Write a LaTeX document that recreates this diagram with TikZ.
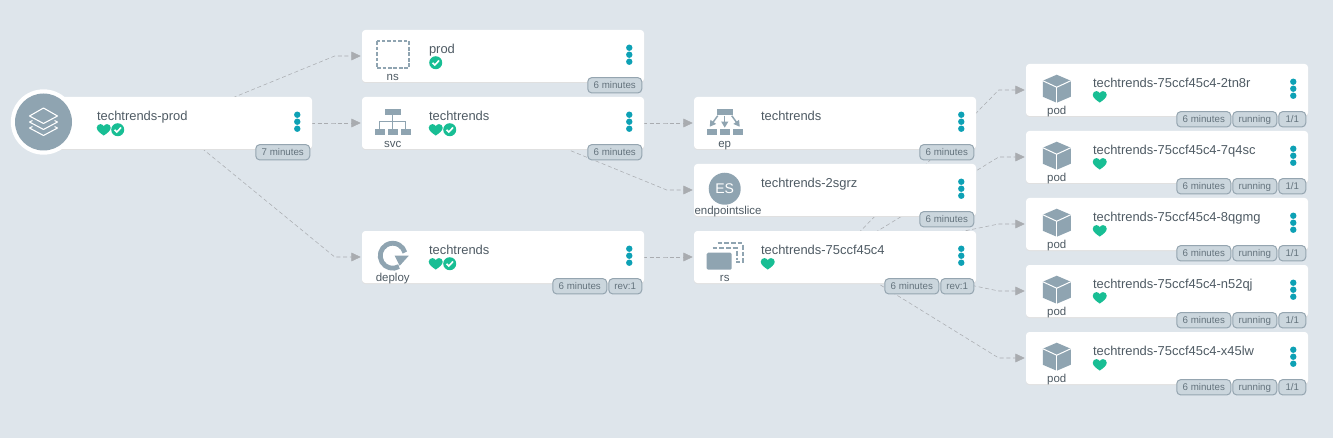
\documentclass[tikz,border=0pt]{standalone}
\usepackage{fontspec}
\setmainfont{Liberation Sans}
\usetikzlibrary{calc,positioning,arrows.meta,backgrounds,shadows}

\definecolor{pagebg}{HTML}{DEE5EB}
\definecolor{iconblue}{HTML}{8FA4B1}
\definecolor{menuteal}{HTML}{0DA1B5}
\definecolor{healthy}{HTML}{18BE94}
\definecolor{inktext}{HTML}{4F5B64}
\definecolor{badgefill}{HTML}{CBD6DD}
\definecolor{badgeline}{HTML}{95A5B0}
\definecolor{badgetext}{HTML}{64737D}
\definecolor{linkgray}{HTML}{A9ACB0}

\tikzset{
	card/.style={fill=white, rounded corners=2.5pt, minimum width=211.5pt, minimum height=39pt, inner sep=0pt,
		general shadow={fill=black!12, shadow yshift=-0.75pt}},
	cardtitle/.style={anchor=base west, inner sep=0pt, text=inktext, font=\fontsize{9.7pt}{11pt}\selectfont},
	kindlabel/.style={anchor=base, inner sep=0pt, text=inktext, font=\fontsize{8.6pt}{10pt}\selectfont},
	badge/.style={draw=badgeline, fill=badgefill, rounded corners=3pt, line width=0.75pt, inner sep=0pt,
		minimum height=11.5pt, text height=5.5pt, text depth=1pt, text=badgetext,
		font=\fontsize{7.3pt}{9pt}\selectfont},
	linkline/.style={draw=linkgray, line width=0.4pt, dash pattern=on 3pt off 2pt,
		-{Triangle[length=7pt,width=6.5pt]}},
	heartmark/.pic={
		\fill[healthy] (0,5.8) .. controls (-3,3.8) and (-7,1) .. (-7,-2)
			.. controls (-7,-4.2) and (-5.2,-5.6) .. (-3.4,-5.6)
			.. controls (-2,-5.6) and (-0.7,-4.8) .. (0,-3.7)
			.. controls (0.7,-4.8) and (2,-5.6) .. (3.4,-5.6)
			.. controls (5.2,-5.6) and (7,-4.2) .. (7,-2)
			.. controls (7,1) and (3,3.8) .. (0,5.8) -- cycle;
	},
	checkmark/.pic={
		\fill[healthy] (0,0) circle (6.5);
		\draw[white, line width=1.2pt] (-3.2,0) -- (-1,2.3) -- (3.3,-2.2);
	},
	menudots/.pic={
		\fill[menuteal] (0,-7) circle (3.2);
		\fill[menuteal] (0,0) circle (3.2);
		\fill[menuteal] (0,7) circle (3.2);
	},
	nsicon/.pic={
		\draw[iconblue, line width=1.3pt, dash pattern=on 2.8pt off 1.3pt] (-16,-13.5) rectangle (16,13.5);
	},
	svcicon/.pic={
		\fill[iconblue] (-8,-13) rectangle (8,-7);
		\fill[iconblue] (-18,7) rectangle (-8,13);
		\fill[iconblue] (-5,7) rectangle (5,13);
		\fill[iconblue] (8.5,7) rectangle (18,13);
		\draw[iconblue, line width=0.9pt] (0,-7) -- (0,7);
		\draw[iconblue, line width=0.9pt] (-13,7) -- (-13,0) -- (13,0) -- (13,7);
	},
	epicon/.pic={
		\fill[iconblue] (-8,-13) rectangle (8,-7);
		\fill[iconblue] (-18,7) rectangle (-8,13);
		\fill[iconblue] (-5,7) rectangle (5,13);
		\fill[iconblue] (8.5,7) rectangle (18,13);
		\draw[iconblue, line width=1.1pt, -{Triangle[length=4.5pt,width=5pt]}] (0,-6) -- (0,6);
		\draw[iconblue, line width=1.1pt, -{Triangle[length=4.5pt,width=5pt]}] (-7,-6) -- (-15,5);
		\draw[iconblue, line width=1.1pt, -{Triangle[length=4.5pt,width=5pt]}] (7,-6) -- (15,5);
	},
	deployicon/.pic={
		\draw[iconblue, line width=3.6pt] (60:12.5) arc[start angle=60, end angle=345, radius=12.5];
		\fill[iconblue] (2,0) -- (16,0) -- (7,10) -- cycle;
	},
	rsicon/.pic={
		\fill[iconblue, rounded corners=1pt] (-18,-3) rectangle (7,14);
		\draw[iconblue, line width=1.3pt, dash pattern=on 3.5pt off 1.5pt] (-7,-12.5) -- (18,-12.5) -- (18,6) -- (11,6);
		\draw[iconblue, line width=1.3pt, dash pattern=on 3.5pt off 1.5pt] (-12,-7.5) -- (12,-7.5) -- (12,4);
	},
	podicon/.pic={
		\fill[iconblue] (0,-14) -- (14,-8) -- (14,8) -- (0,14) -- (-14,8) -- (-14,-8) -- cycle;
		\draw[white, line width=0.75pt] (-14,-8) -- (0,-1.5) -- (14,-8);
		\draw[white, line width=0.75pt] (0,-1.5) -- (0,14);
	},
	stackicon/.pic={
		\draw[white, line width=0.8pt, line join=round] (-14,-6) -- (0,-14) -- (14,-6) -- (0,1.5) -- cycle;
		\draw[white, line width=0.8pt, line join=round] (-11,-1.5) -- (-14,0) -- (0,7.5) -- (14,0) -- (11,-1.5);
		\draw[white, line width=0.8pt, line join=round] (-11,4.5) -- (-14,6) -- (0,13.5) -- (14,6) -- (11,4.5);
	},
}

% card: options of the kind label, name, x, y, kind, title
\newcommand{\rescard}[6][]{
	\node[card] (#2) at (#3,#4) {};
	\node[cardtitle] (#2-title) at ($(#2.north west)+(67,24)$) {#6};
	\node[kindlabel,#1] (#2-kind) at ($(#2.north west)+(31,51)$) {#5};
	\pic at ($(#2.north east)+(-15,25)$) {menudots};
}
\newcommand{\linkto}[2]{
	\draw[linkline] (#1.center) -- ($(#2.west)+(-27,0)$) -- ($(#2.west)+(-1,0)$);
}

\begin{document}
\begin{tikzpicture}[x=0.75pt,y=-0.75pt]
	\useasboundingbox (0,0) rectangle (1333,438);

	% first column
	\rescard{root}{171}{123}{}{techtrends-prod}
	\pic at ($(root.north west)+(74,33)$) {heartmark};
	\pic at ($(root.north west)+(88,33)$) {checkmark};
	\node[badge, minimum width=40.5pt, anchor=east] (root-age) at ($(root.south east)+(-2,3)$) {7 minutes};
	\node[circle, fill=white, minimum size=49pt, inner sep=0pt] (root-ring) at (43.5,122) {};
	\node[circle, fill=iconblue, minimum size=42.75pt, inner sep=0pt] (root-disc) at (root-ring) {};
	\pic at (root-disc) {stackicon};

	% second column
	\rescard{ns}{503}{56}{ns}{prod}
	\pic at ($(ns.north west)+(31,25)$) {nsicon};
	\pic at ($(ns.north west)+(74,33)$) {checkmark};
	\node[badge, minimum width=40.5pt, anchor=east] (ns-age) at ($(ns.south east)+(-2,3)$) {6 minutes};

	\rescard{svc}{503}{123}{svc}{techtrends}
	\pic at ($(svc.north west)+(31,25)$) {svcicon};
	\pic at ($(svc.north west)+(74,33)$) {heartmark};
	\pic at ($(svc.north west)+(88,33)$) {checkmark};
	\node[badge, minimum width=40.5pt, anchor=east] (svc-age) at ($(svc.south east)+(-2,3)$) {6 minutes};

	\rescard{deploy}{503}{257}{deploy}{techtrends}
	\pic at ($(deploy.north west)+(31,25)$) {deployicon};
	\pic at ($(deploy.north west)+(74,33)$) {heartmark};
	\pic at ($(deploy.north west)+(88,33)$) {checkmark};
	\node[badge, minimum width=24.75pt, anchor=east] (deploy-rev) at ($(deploy.south east)+(-2,3)$) {rev:1};
	\node[badge, minimum width=40.5pt, left=0.75pt of deploy-rev] (deploy-age) {6 minutes};

	% third column
	\rescard{ep}{835}{123}{ep}{techtrends}
	\pic at ($(ep.north west)+(31,25)$) {epicon};
	\node[badge, minimum width=40.5pt, anchor=east] (ep-age) at ($(ep.south east)+(-2,3)$) {6 minutes};

	\rescard[xshift=2.5pt]{es}{835}{190}{endpointslice}{techtrends-2sgrz}
	\node[circle, fill=iconblue, minimum size=24pt, inner sep=0pt, text=white, font=\fontsize{10.5pt}{12pt}\selectfont] (es-disc) at ($(es.north west)+(31,25)$) {ES};
	\node[badge, minimum width=40.5pt, anchor=east] (es-age) at ($(es.south east)+(-2,3)$) {6 minutes};

	\rescard{rs}{835}{257}{rs}{techtrends-75ccf45c4}
	\pic at ($(rs.north west)+(31,25)$) {rsicon};
	\pic at ($(rs.north west)+(74,33)$) {heartmark};
	\node[badge, minimum width=24.75pt, anchor=east] (rs-rev) at ($(rs.south east)+(-2,3)$) {rev:1};
	\node[badge, minimum width=40.5pt, left=0.75pt of rs-rev] (rs-age) {6 minutes};

	% pods
	\foreach \podname/\podrow in {2tn8r/90,7q4sc/157,8qgmg/224,n52qj/291,x45lw/358}{
		\rescard{pod-\podname}{1167}{\podrow}{pod}{techtrends-75ccf45c4-\podname}
		\pic at ($(pod-\podname.north west)+(31,25)$) {podicon};
		\pic at ($(pod-\podname.north west)+(74,33)$) {heartmark};
		\node[badge, minimum width=20.25pt, anchor=east] (pod-\podname-ready) at ($(pod-\podname.south east)+(-2,3)$) {1/1};
		\node[badge, minimum width=33pt, left=0.75pt of pod-\podname-ready] (pod-\podname-phase) {running};
		\node[badge, minimum width=40.5pt, left=0.75pt of pod-\podname-phase] (pod-\podname-age) {6 minutes};
	}

	\begin{scope}[on background layer]
		\fill[pagebg] (0,0) rectangle (1333,438);
		\linkto{root}{ns}
		\linkto{root}{svc}
		\linkto{root}{deploy}
		\linkto{svc}{ep}
		\linkto{svc}{es}
		\linkto{deploy}{rs}
		\foreach \podname in {2tn8r,7q4sc,8qgmg,n52qj,x45lw}{
			\linkto{rs}{pod-\podname}
		}
	\end{scope}
\end{tikzpicture}
\end{document}
